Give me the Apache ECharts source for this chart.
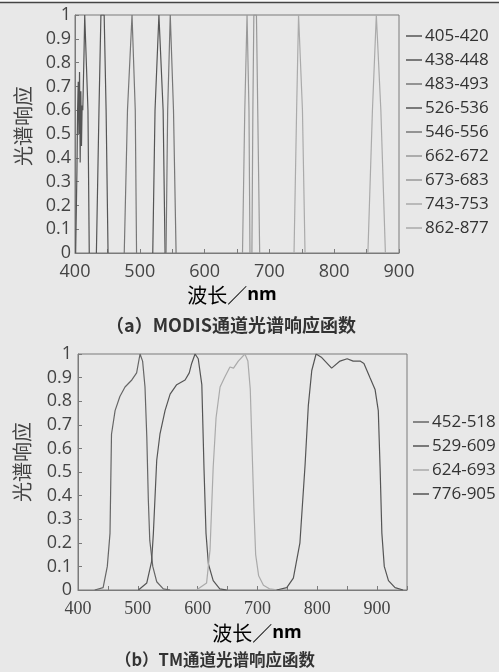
<!DOCTYPE html>
<html><head><meta charset="utf-8">
<script src="https://cdn.jsdelivr.net/npm/echarts@6/dist/echarts.min.js"></script>
<style>html,body{margin:0;padding:0;background:#e8e8e8}#c{width:499px;height:672px}</style>
</head><body><div id="c"></div>
<script>
// ---- MODIS bands (top chart) ----
const modisNames = ['405-420','438-448','483-493','526-536','546-556','662-672','673-683','743-753','862-877'];
const modisColors = ['#555','#555','#777','#555','#777','#999','#999','#aaa','#aaa'];
const m405 = [[401,0],[403,0.35],[404,0.6],[405,0.72],[406,0.5],[407,0.76],[408,0.38],[409,0.68],[410,0.45],[411,0.62],[412,0.6],[414,0.85],[415,1],[418,1],[420,0.6],[422,0]];
const m438 = [[433,0],[437,0.6],[440,1],[445,1],[448,0.6],[451,0]];
const m483 = [[476,0],[481,0.6],[488,1],[490,1],[493,0.6],[495,0]];
const m526 = [[520,0],[523.5,0.6],[529.5,1],[532.5,1],[536,0.6],[539,0]];
const m546 = [[540.5,0],[543,0.6],[547,1],[549,1],[552,0.6],[556,0]];
const m662 = [[658.5,0],[662,0.6],[665.5,1],[667.5,1],[668.5,0.6],[670,0]];
const m673 = [[673,0],[674.5,0.6],[676,1],[680,1],[682,0.6],[685,0]];
const m743 = [[738,0],[742,0.6],[745,1],[748,1],[751,0.6],[755,0]];
const m862 = [[852,0],[859,0.6],[865,1],[868,1],[872,0.6],[879,0]];
const modisData = [m405,m438,m483,m526,m546,m662,m673,m743,m862];

// ---- TM bands (bottom chart) ----
const tmNames = ['452-518','529-609','624-693','776-905'];
const tmColors = ['#666','#555','#aaa','#555'];
const t452 = [[428,0],[442,0.01],[449,0.1],[453.5,0.24],[456,0.66],[462,0.76],[470,0.82],[478.6,0.86],[490,0.89],[498,0.92],[503.7,1],[508,0.97],[512,0.86],[515,0.65],[517.6,0.38],[520,0.21],[525,0.1],[531.6,0.035],[542.6,0.005],[554,0]];
const t529 = [[501,0],[515,0.03],[523,0.12],[526,0.24],[531.6,0.55],[537,0.66],[545.5,0.76],[554,0.83],[565,0.87],[579,0.89],[586,0.92],[590,0.96],[595.7,1],[601,0.98],[607,0.87],[610.7,0.51],[614,0.24],[618,0.11],[626,0.04],[637,0.005],[648.7,0]];
const t624 = [[598,0],[615,0.03],[620.7,0.17],[626,0.52],[630.8,0.73],[637.5,0.86],[645,0.9],[654,0.945],[660,0.94],[668,0.97],[679,1],[684,0.97],[688,0.85],[691,0.6],[694,0.35],[697,0.15],[702,0.06],[710,0.02],[720,0.005],[735,0]];
const t776 = [[732,0],[749,0.01],[760,0.05],[771,0.2],[779.6,0.53],[785,0.78],[790.8,0.93],[798,1],[807.5,0.985],[824,0.94],[838,0.97],[850,0.98],[860,0.97],[871.6,0.97],[878,0.96],[888,0.9],[896.6,0.85],[902,0.76],[905,0.52],[908,0.24],[912,0.1],[919,0.04],[930,0.01],[943.5,0]];
const tmData = [t452,t529,t624,t776];

const axisCol = '#7a7a7a';
const sans = '"Open Sans", "Noto Sans", sans-serif';
const serif = '"Liberation Serif", "DejaVu Serif", serif';
const cjk = '"Noto Sans CJK SC", sans-serif';

function xAx(grid, min, max, labFont) {
  return {
    type:'value', gridIndex:grid, min:min, max:max, interval:50,
    axisLine:{show:true, onZero:false, lineStyle:{color:axisCol, width:1}},
    axisTick:{show:true, inside:true, length:4, lineStyle:{color:axisCol}},
    splitLine:{show:false},
    axisLabel:{margin:10, fontSize:18, color:'#444', fontFamily:labFont,
      formatter: v => (v % 100 === 0 && v <= 900) ? String(v) : ''}
  };
}
function yAx(grid, margin) {
  return {
    type:'value', gridIndex:grid, min:0, max:1, interval:0.1,
    axisLine:{show:true, onZero:false, lineStyle:{color:axisCol, width:1}},
    axisTick:{show:true, inside:true, length:4, lineStyle:{color:axisCol}},
    splitLine:{show:false},
    axisLabel:{margin:margin, fontSize:18, color:'#444', fontFamily:sans,
      formatter: v => v === 0 ? '0' : (v === 1 ? '1' : v.toFixed(1))}
  };
}

const series = [];
modisNames.forEach((n,i) => series.push({
  name:n, type:'line', xAxisIndex:0, yAxisIndex:0, data:modisData[i],
  showSymbol:false, symbol:'none', lineStyle:{color:modisColors[i], width:1.2},
  itemStyle:{color:modisColors[i]}, clip:true, animation:false
}));
tmNames.forEach((n,i) => series.push({
  name:n, type:'line', xAxisIndex:1, yAxisIndex:1, data:tmData[i],
  showSymbol:false, symbol:'none', lineStyle:{color:tmColors[i], width:1.2},
  itemStyle:{color:tmColors[i]}, clip:true, animation:false
}));

function legend(names, left, top) {
  return {
    data:names, orient:'vertical', left:left, top:top, icon:'rect',
    itemWidth:16, itemHeight:1.5, itemGap:6, padding:0, selectedMode:false,
    textStyle:{fontSize:17, color:'#333', fontFamily:sans, lineHeight:18, padding:[0,0,0,-2]}
  };
}

const chart = echarts.init(document.getElementById('c'), null, {renderer:'canvas'});
chart.setOption({
  backgroundColor:'#e8e8e8',
  animation:false,
  grid:[
    {left:75, top:15, width:324, height:238, show:true, borderColor:axisCol, borderWidth:1, backgroundColor:'transparent'},
    {left:78, top:354, width:329, height:236, show:true, borderColor:axisCol, borderWidth:1, backgroundColor:'transparent'}
  ],
  xAxis:[xAx(0,400,900,sans), xAx(1,400,950,serif)],
  yAxis:[yAx(0,4), yAx(1,6)],
  legend:[legend(modisNames,406,27), legend(tmNames,413,413)],
  series:series,
  graphic:[
    {type:'rect', left:0, top:0, shape:{width:499, height:2}, style:{fill:'#fafafa'}, silent:true},
    {type:'line', shape:{x1:0,y1:2.5,x2:499,y2:2.5}, style:{stroke:'#444', lineWidth:1.5}, silent:true},
    {type:'text', x:23, y:126, rotation:Math.PI/2,
      style:{text:'光谱响应', font:'20px "Noto Sans CJK SC"', fill:'#444', textAlign:'center', textVerticalAlign:'middle'}},
    {type:'text', x:22, y:462, rotation:Math.PI/2,
      style:{text:'光谱响应', font:'20px "Noto Sans CJK SC"', fill:'#444', textAlign:'center', textVerticalAlign:'middle'}},
    {type:'text', x:232, y:295,
      style:{text:'{a|波长／}{b|nm}', textAlign:'center', textVerticalAlign:'middle',
        rich:{a:{fontSize:20, fontFamily:cjk, color:'#444'}, b:{fontSize:18, fontWeight:'bold', fontFamily:sans, color:'#444'}}}},
    {type:'text', x:257, y:633,
      style:{text:'{a|波长／}{b|nm}', textAlign:'center', textVerticalAlign:'middle',
        rich:{a:{fontSize:20, fontFamily:cjk, color:'#444'}, b:{fontSize:18, fontWeight:'bold', fontFamily:sans, color:'#444'}}}},
    {type:'text', x:231, y:325,
      style:{text:'（a）MODIS通道光谱响应函数', font:'bold 18px "Noto Sans CJK SC"', fill:'#333', textAlign:'center', textVerticalAlign:'middle'}},
    {type:'text', x:215, y:660,
      style:{text:'（b）TM通道光谱响应函数', font:'bold 16.5px "Noto Sans CJK SC"', fill:'#333', textAlign:'center', textVerticalAlign:'middle'}}
  ]
});
</script></body></html>
